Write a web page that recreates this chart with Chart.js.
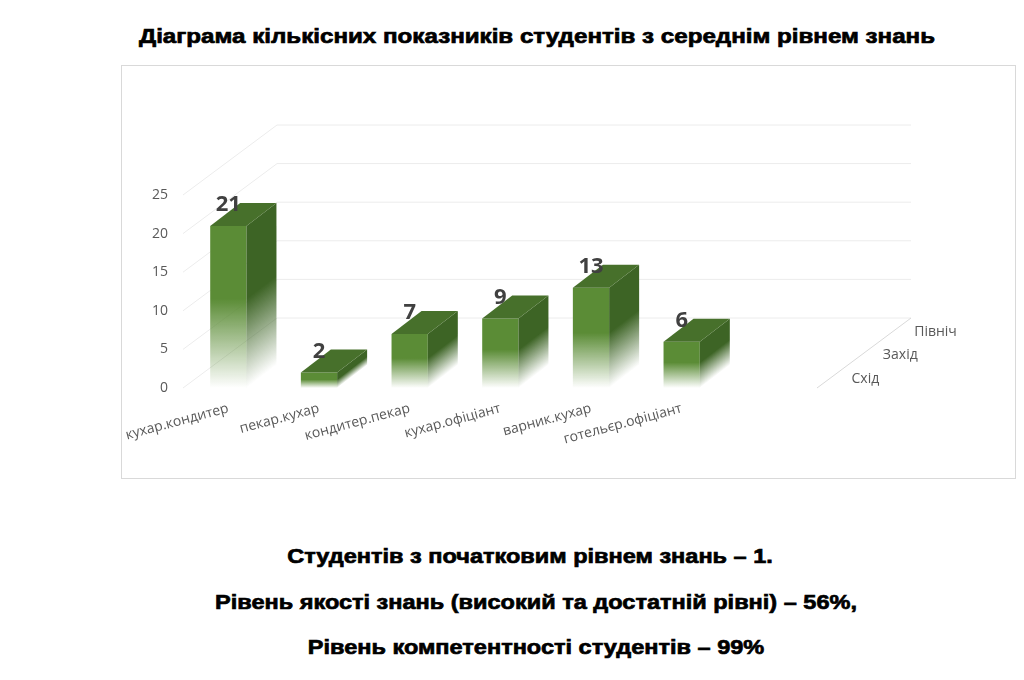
<!DOCTYPE html>
<html lang="uk">
<head>
<meta charset="utf-8">
<title>Діаграма кількісних показників студентів</title>
<script src="https://cdn.jsdelivr.net/npm/chart.js@4.4.1/dist/chart.umd.min.js"></script>
<style>
  body { margin: 0; background: #fff; width: 1024px; height: 680px; position: relative; overflow: hidden; }
  .txt {
    position: absolute; transform: translateX(-50%) scaleX(1.15); white-space: nowrap;
    font-family: "Liberation Sans", Arial, sans-serif; font-weight: bold; font-size: 21px;
    color: #000; -webkit-text-stroke: 0.7px #000;
  }
  .note { transform: translateX(-50%) scaleX(1.12); }
  #box {
    position: absolute; left: 121px; top: 65px; width: 895px; height: 414px;
    box-sizing: border-box; border: 1px solid #d9d9d9;
  }
</style>
</head>
<body>
<div class="txt" style="left:537px; top:24px;">Діаграма кількісних показників студентів з середнім рівнем знань</div>
<div id="box"><canvas id="chart" width="893" height="412"></canvas></div>
<div class="txt note" style="left:530px; top:544px;">Студентів з початковим рівнем знань – 1.</div>
<div class="txt note" style="left:536px; top:590px;">Рівень якості знань (високий та достатній рівні) – 56%,</div>
<div class="txt note" style="left:536px; top:635px;">Рівень компетентності студентів – 99%</div>

<script>
const categories = ['кухар.кондитер', 'пекар.кухар', 'кондитер.пекар', 'кухар.офіціант', 'варник.кухар', 'готельєр.офіціант'];
const students = [21, 2, 7, 9, 13, 6];
const yTicks = [0, 5, 10, 15, 20, 25];
const depthSeries = ['Схід', 'Захід', 'Північ'];

// 3d look
const BAR_DX = 30, BAR_DY = -23;
const WALL_DX = 94, WALL_DY = -70;
const FLOOR_EXTRA = 90;
const FRONT = '#5b8c36', SIDE = '#3d6425', TOP = '#47702b';

function fade(g, color, rgb) {
    g.addColorStop(0, color);
    g.addColorStop(0.45, color);
    g.addColorStop(1, 'rgba(' + rgb + ',0)');
    return g;
}

const walls = {
    id: 'walls',
    beforeDatasetsDraw(chart) {
        const { ctx, chartArea: a } = chart;
        const ys = chart.scales.y;
        const backRight = a.right + FLOOR_EXTRA + WALL_DX;
        ctx.save();
        ctx.lineWidth = 1;
        ctx.strokeStyle = '#ececec';
        yTicks.forEach(v => {
            const yf = ys.getPixelForValue(v);
            const yb = yf + WALL_DY;
            ctx.beginPath();
            ctx.moveTo(a.left, yf);
            ctx.lineTo(a.left + WALL_DX, yb);
            ctx.lineTo(backRight, yb);
            ctx.stroke();
        });
        // depth axis on the floor
        ctx.strokeStyle = '#d9d9d9';
        ctx.beginPath();
        ctx.moveTo(a.right + FLOOR_EXTRA, a.bottom);
        ctx.lineTo(backRight, a.bottom + WALL_DY);
        ctx.stroke();
        ctx.fillStyle = '#595959';
        ctx.font = '14px "Open Sans"';
        ctx.textBaseline = 'middle';
        depthSeries.forEach((s, i) => {
            const t = (i + 0.4) / 3;
            const x = a.right + FLOOR_EXTRA + WALL_DX * t + 22;
            const y = a.bottom + WALL_DY * t;
            ctx.fillText(s, x, y);
        });
        ctx.restore();
    }
};

const bars3d = {
    id: 'bars3d',
    afterDatasetsDraw(chart) {
        const ctx = chart.ctx;
        const meta = chart.getDatasetMeta(0);
        meta.data.forEach((bar, i) => {
            const { x, y, base, width } = bar.getProps(['x', 'y', 'base', 'width'], true);
            const L = x - width / 2, R = x + width / 2;
            // side face, skewed so the fade follows it
            ctx.save();
            ctx.transform(1, BAR_DY / BAR_DX, 0, 1, R, 0);
            ctx.fillStyle = fade(ctx.createLinearGradient(0, y, 0, base), SIDE, '61,100,37');
            ctx.fillRect(0, y, BAR_DX, base - y);
            ctx.restore();
            // top face
            ctx.beginPath();
            ctx.moveTo(L, y);
            ctx.lineTo(R, y);
            ctx.lineTo(R + BAR_DX, y + BAR_DY);
            ctx.lineTo(L + BAR_DX, y + BAR_DY);
            ctx.closePath();
            ctx.fillStyle = TOP;
            ctx.fill();
            // value
            ctx.fillStyle = '#404040';
            ctx.font = 'bold 22px "Open Sans"';
            ctx.textAlign = 'center';
            ctx.textBaseline = 'middle';
            ctx.fillText(students[i], x, y - 21);
        });
    }
};

new Chart(document.getElementById('chart'), {
    type: 'bar',
    data: {
        labels: categories,
        datasets: [{
            label: 'Студенти',
            data: students,
            categoryPercentage: 0.8,
            barPercentage: 0.5,
            borderWidth: 0,
            backgroundColor: c => {
                const chart = c.chart;
                if (!chart.chartArea || c.type !== 'data') return FRONT;
                const ys = chart.scales.y;
                const top = ys.getPixelForValue(students[c.dataIndex]);
                const base = ys.getPixelForValue(0);
                return fade(chart.ctx.createLinearGradient(0, top, 0, base), FRONT, '91,140,54');
            }
        }]
    },
    options: {
        responsive: false,
        animation: false,
        layout: { padding: { left: 0, right: 288, top: 129, bottom: 0 } },
        plugins: { legend: { display: false }, tooltip: { enabled: false } },
        scales: {
            x: {
                grid: { display: false, drawTicks: false },
                border: { display: false },
                ticks: {
                    autoSkip: false, minRotation: 15, maxRotation: 15, padding: 12,
                    color: '#595959', font: { family: 'Open Sans', size: 14 }
                },
                afterFit: s => { s.height = 90; s.paddingLeft = 0; s.paddingRight = 0; }
            },
            y: {
                min: 0, max: 25,
                afterBuildTicks: s => { s.ticks = yTicks.map(v => ({ value: v })); },
                grid: { display: false, drawTicks: false },
                border: { display: false },
                ticks: { padding: 15, color: '#595959', font: { family: 'Open Sans', size: 14 } },
                afterFit: s => { s.width = 61; }
            }
        }
    },
    plugins: [walls, bars3d]
});
</script>
</body>
</html>
